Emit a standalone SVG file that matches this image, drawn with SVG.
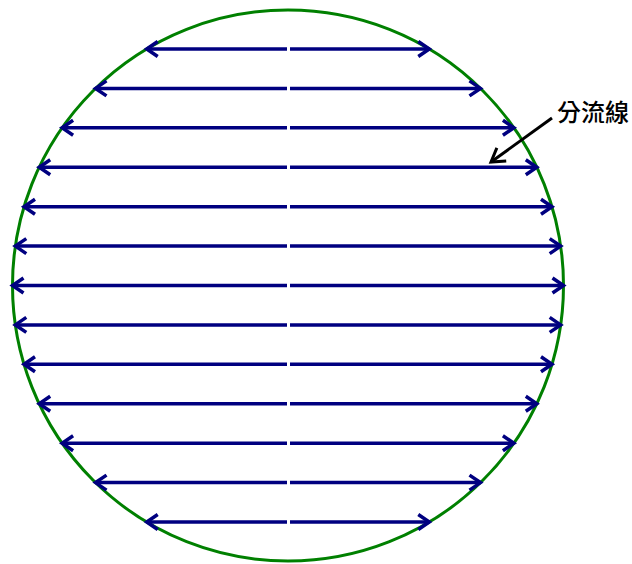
<svg xmlns="http://www.w3.org/2000/svg" width="632" height="564" viewBox="0 0 632 564">
<style>
.fl{stroke:#000080;stroke-width:3.5;fill:none;marker-end:url(#ah)}
.ah{fill:none;stroke:#000080;stroke-width:3.5;stroke-linejoin:miter}
</style>
<defs>
<marker id="ah" markerUnits="userSpaceOnUse" viewBox="-16 -12 20 24" refX="0" refY="0" markerWidth="20" markerHeight="24" orient="auto" overflow="visible">
<path class="ah" d="M-11,-7.5 L0,0 L-11,7.5"/>
</marker>
<marker id="bh" markerUnits="userSpaceOnUse" viewBox="-16 -12 20 24" refX="0" refY="0" markerWidth="20" markerHeight="24" orient="auto" overflow="visible">
<path d="M-13,-8 L0,0 L-13,8" fill="none" stroke="#000" stroke-width="3"/>
</marker>
</defs>
<g id="circle">
<circle cx="288" cy="285.5" r="275.5" fill="none" stroke="#008000" stroke-width="3"/>
</g>
<g id="connectors">
<line class="fl" x1="287" y1="49" x2="146.7" y2="49"/><line class="fl" x1="290" y1="49" x2="429.3" y2="49"/>
<line class="fl" x1="287" y1="88.4" x2="95.5" y2="88.4"/><line class="fl" x1="290" y1="88.4" x2="480.5" y2="88.4"/>
<line class="fl" x1="287" y1="127.8" x2="62.1" y2="127.8"/><line class="fl" x1="290" y1="127.8" x2="513.9" y2="127.8"/>
<line class="fl" x1="287" y1="167.3" x2="39.2" y2="167.3"/><line class="fl" x1="290" y1="167.3" x2="536.8" y2="167.3"/>
<line class="fl" x1="287" y1="206.7" x2="24" y2="206.7"/><line class="fl" x1="290" y1="206.7" x2="552" y2="206.7"/>
<line class="fl" x1="287" y1="246.1" x2="15.3" y2="246.1"/><line class="fl" x1="290" y1="246.1" x2="560.7" y2="246.1"/>
<line class="fl" x1="287" y1="285.5" x2="12.5" y2="285.5"/><line class="fl" x1="290" y1="285.5" x2="563.5" y2="285.5"/>
<line class="fl" x1="287" y1="324.9" x2="15.3" y2="324.9"/><line class="fl" x1="290" y1="324.9" x2="560.7" y2="324.9"/>
<line class="fl" x1="287" y1="364.3" x2="24" y2="364.3"/><line class="fl" x1="290" y1="364.3" x2="552" y2="364.3"/>
<line class="fl" x1="287" y1="403.7" x2="39.2" y2="403.7"/><line class="fl" x1="290" y1="403.7" x2="536.8" y2="403.7"/>
<line class="fl" x1="287" y1="443.2" x2="62.1" y2="443.2"/><line class="fl" x1="290" y1="443.2" x2="513.9" y2="443.2"/>
<line class="fl" x1="287" y1="482.6" x2="95.5" y2="482.6"/><line class="fl" x1="290" y1="482.6" x2="480.5" y2="482.6"/>
<line class="fl" x1="287" y1="522" x2="146.7" y2="522"/><line class="fl" x1="290" y1="522" x2="429.3" y2="522"/>
<line x1="552" y1="118" x2="491" y2="162" stroke="#000" stroke-width="3" marker-end="url(#bh)"/>
</g>
<g id="label">
<text x="557" y="121" font-family="'Liberation Sans','Noto Sans CJK TC',sans-serif" font-size="24" font-weight="500" fill="#000">分流線</text>
</g>
</svg>
